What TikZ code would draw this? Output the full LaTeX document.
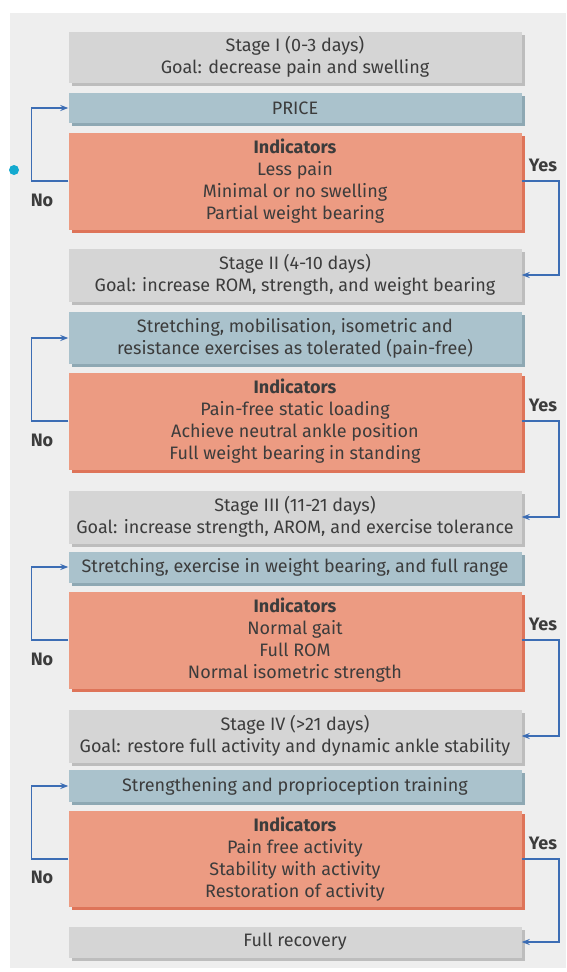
\documentclass[tikz,border=0pt]{standalone}
\usepackage{fontspec}
\setmainfont{Fira Sans}
\usetikzlibrary{arrows.meta,shadows}

\definecolor{panelgrey}{HTML}{EEEEEE}
\definecolor{stagegrey}{HTML}{D5D5D5}
\definecolor{stageedge}{HTML}{BDBDBD}
\definecolor{actblue}{HTML}{AAC2CC}
\definecolor{actedge}{HTML}{8EA8B3}
\definecolor{indsalmon}{HTML}{EC9B82}
\definecolor{indedge}{HTML}{DE7459}
\definecolor{flowblue}{HTML}{3C6DB4}
\definecolor{textgrey}{HTML}{3C3C3C}
\definecolor{markcyan}{HTML}{13A9CF}

\begin{document}
\begin{tikzpicture}[x=1pt,y=-1pt,>={Stealth[length=8pt,width=6pt]},
  font=\fontsize{18}{22}\selectfont,
  every node/.style={text=textgrey},
  panel/.style={minimum width=453pt,inner sep=0pt,align=center},
  stagebox/.style={panel,fill=stagegrey,
    drop shadow={shadow xshift=3pt,shadow yshift=-3pt,opacity=1,fill=stageedge}},
  actbox/.style={panel,fill=actblue,
    drop shadow={shadow xshift=3pt,shadow yshift=-3pt,opacity=1,fill=actedge}},
  indbox/.style={panel,fill=indsalmon,
    drop shadow={shadow xshift=3pt,shadow yshift=-3pt,opacity=1,fill=indedge}},
  flow/.style={draw=flowblue,line width=1.6pt},
  answer/.style={font=\fontsize{18}{20}\selectfont\bfseries}]
  \useasboundingbox (0,0) rectangle (566,972);
  \fill[panelgrey] (10,13) rectangle (566,968);

  % stage I
  \node[stagebox,minimum height=51pt] (s1) at (295,57) {Stage I (0-3 days)\\Goal: decrease pain and swelling};
  \node[actbox,minimum height=30pt] (a1) at (295,108) {PRICE};
  \node[indbox,minimum height=97pt] (i1) at (295,181) {\textbf{Indicators}\\Less pain\\Minimal or no swelling\\Partial weight bearing};

  % stage II
  \node[stagebox,minimum height=53pt] (s2) at (295,275) {Stage II (4-10 days)\\Goal: increase ROM, strength, and weight bearing};
  \node[actbox,minimum height=52pt] (a2) at (295,338) {Stretching, mobilisation, isometric and\\resistance exercises as tolerated (pain-free)};
  \node[indbox,minimum height=97pt] (i2) at (295,421) {\textbf{Indicators}\\Pain-free static loading\\Achieve neutral ankle position\\Full weight bearing in standing};

  % stage III
  \node[stagebox,minimum height=53pt] (s3) at (295,517) {Stage III (11-21 days)\\Goal: increase strength, AROM, and exercise tolerance};
  \node[actbox,minimum height=31pt] (a3) at (295,567) {Stretching, exercise in weight bearing, and full range};
  \node[indbox,minimum height=97pt] (i3) at (295,640) {\textbf{Indicators}\\Normal gait\\Full ROM\\Normal isometric strength};

  % stage IV
  \node[stagebox,minimum height=53pt] (s4) at (295,736) {Stage IV (>21 days)\\Goal: restore full activity and dynamic ankle stability};
  \node[actbox,minimum height=32pt] (a4) at (295,786) {Strengthening and proprioception training};
  \node[indbox,minimum height=96pt] (i4) at (295,859) {\textbf{Indicators}\\Pain free activity\\Stability with activity\\Restoration of activity};

  \node[stagebox,minimum height=31pt] (fr) at (295,942) {Full recovery};

  % loops
  \draw[flow,->] (i1.west) -- ++(-37,0) |- (a1.west);
  \draw[flow,->] (i1.east) -- ++(37,0) |- (s2.east);
  \draw[flow,->] (i2.west) -- ++(-37,0) |- (a2.west);
  \draw[flow,->] (i2.east) -- ++(37,0) |- (s3.east);
  \draw[flow,->] (i3.west) -- ++(-37,0) |- (a3.west);
  \draw[flow,->] (i3.east) -- ++(37,0) |- (s4.east);
  \draw[flow,->] (i4.west) -- ++(-37,0) |- (a4.west);
  \draw[flow,->] (i4.east) -- ++(37,0) |- (fr.east);

  \node[answer] (no1) at (42,200) {No};
  \node[answer] (yes1) at (543,165) {Yes};
  \node[answer] (no2) at (42,440) {No};
  \node[answer] (yes2) at (543,405) {Yes};
  \node[answer] (no3) at (42,659) {No};
  \node[answer] (yes3) at (543,624) {Yes};
  \node[answer] (no4) at (42,877) {No};
  \node[answer] (yes4) at (543,843) {Yes};

  \node[circle,fill=markcyan,inner sep=0pt,minimum size=10pt] (dot) at (14,170) {};
\end{tikzpicture}
\end{document}
